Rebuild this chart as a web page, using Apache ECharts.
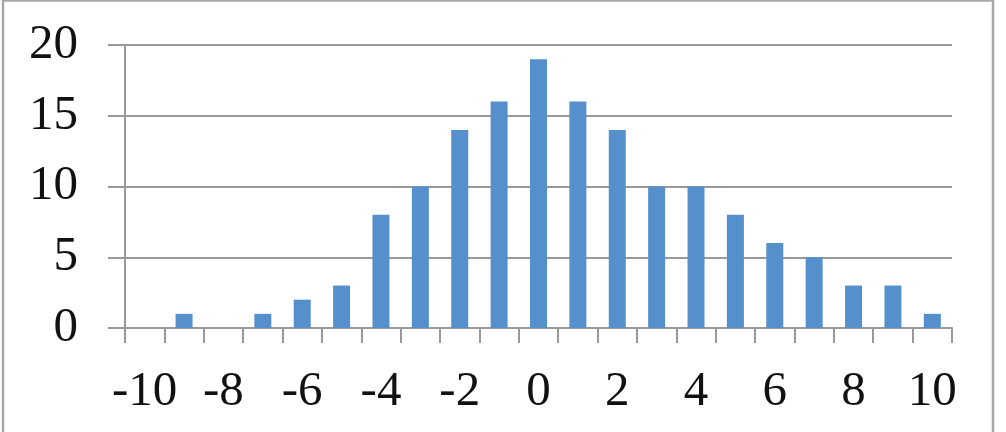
<!DOCTYPE html>
<html>
<head>
<meta charset="utf-8">
<script src="https://cdn.jsdelivr.net/npm/echarts@6/dist/echarts.min.js"></script>
<style>
  html, body { margin: 0; padding: 0; background: #fff; }
  #chart { width: 1006px; height: 432px; }
</style>
</head>
<body>
<div id="chart"></div>
<script>
// bins -10..10 and their counts
const categories = ["-10", "-9", "-8", "-7", "-6", "-5", "-4", "-3", "-2", "-1", "0",
  "1", "2", "3", "4", "5", "6", "7", "8", "9", "10"];
const counts = [0, 1, 0, 1, 2, 3, 8, 10, 14, 16, 19, 16, 14, 10, 10, 8, 6, 5, 3, 3, 1];
const yTicks = [0, 5, 10, 15, 20];

const chart = echarts.init(document.getElementById("chart"));

const gray = "#999";
const font = "'Liberation Serif', 'DejaVu Serif', serif";

chart.setOption({
  backgroundColor: "#fff",
  animation: false,
  graphic: [
    {
      type: "rect",
      shape: { x: 3, y: 0.5, width: 990, height: 460 },
      style: { fill: "none", stroke: "#a6a6a6", lineWidth: 2.5 },
      silent: true,
    },
  ],
  grid: { left: 125, right: 54, top: 45, bottom: 104 },
  xAxis: {
    type: "category",
    data: categories,
    boundaryGap: true,
    axisLine: { show: true, lineStyle: { color: gray, width: 2 } },
    axisTick: { show: true, interval: 0, length: 15, lineStyle: { color: gray, width: 2 } },
    axisLabel: {
      interval: 1,
      margin: 40,
      color: "#111",
      fontFamily: font,
      fontSize: 49,
    },
    splitLine: { show: false },
  },
  yAxis: {
    type: "value",
    min: yTicks[0],
    max: yTicks[yTicks.length - 1],
    interval: 5,
    axisLine: { show: true, lineStyle: { color: gray, width: 2 } },
    axisTick: { show: true, length: 17, lineStyle: { color: gray, width: 2 } },
    axisLabel: {
      margin: 47,
      color: "#111",
      fontFamily: font,
      fontSize: 49,
    },
    splitLine: { show: true, lineStyle: { color: gray, width: 2 } },
  },
  series: [
    {
      type: "bar",
      data: counts,
      barWidth: 17,
      itemStyle: { color: "#5590cc" },
    },
  ],
});
</script>
</body>
</html>
